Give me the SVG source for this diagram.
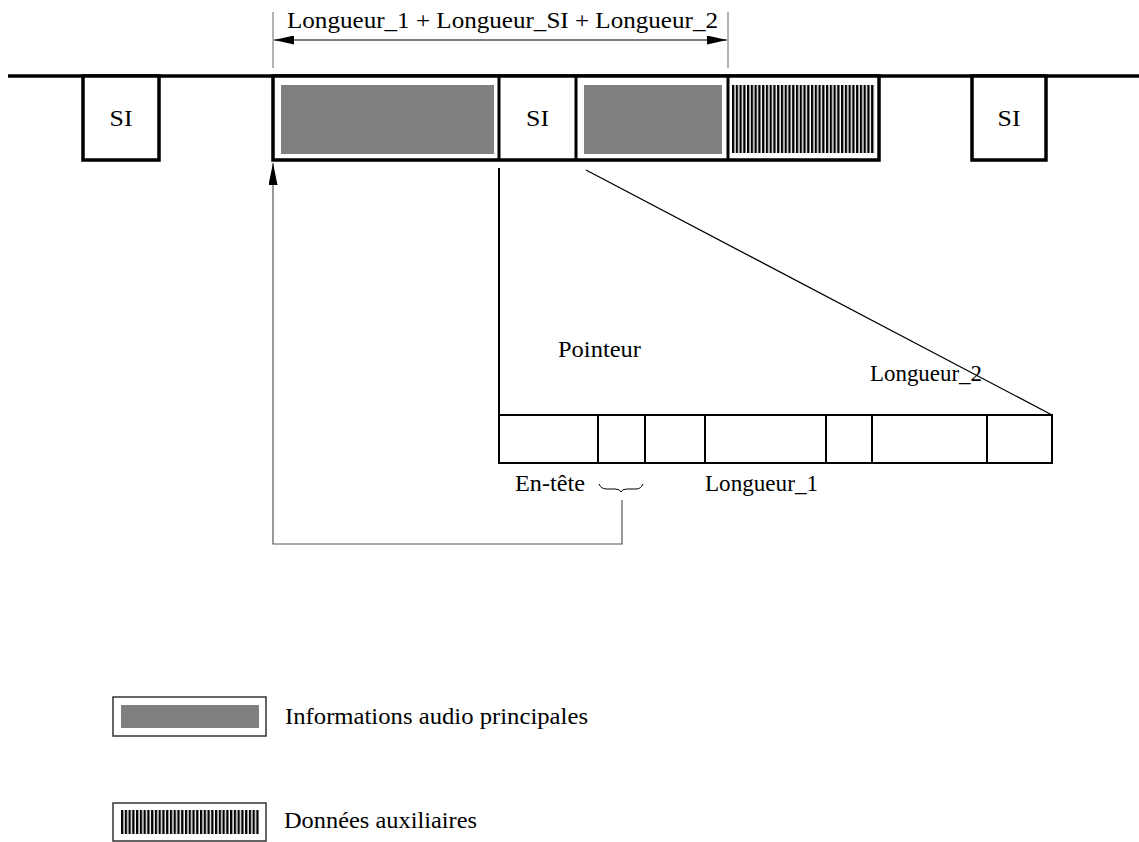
<svg xmlns="http://www.w3.org/2000/svg" width="1139" height="842" viewBox="0 0 1139 842">
<style>
text { font-family: "Liberation Serif", "Times New Roman", serif; font-size: 23px; fill: #000; }
.thick { fill: #fff; stroke: #000; stroke-width: 3.5; }
.gray { fill: #808080; }
.hatch { fill: url(#stripes); }
.lead { fill: none; stroke: #555; stroke-width: 1.2; }
.leg { fill: #fff; stroke: #333; stroke-width: 1.5; }
.div { stroke: #000; stroke-width: 2; }
</style>
<defs>
<pattern id="stripes" patternUnits="userSpaceOnUse" x="732" y="0" width="3.76" height="10">
<rect x="0" y="0" width="2.3" height="10" fill="#000"/>
</pattern>
<pattern id="stripes2" patternUnits="userSpaceOnUse" x="121" y="0" width="3.76" height="10">
<rect x="0" y="0" width="2.3" height="10" fill="#000"/>
</pattern>
<marker id="arr" markerWidth="20" markerHeight="9" refX="20" refY="4.5" orient="auto-start-reverse" markerUnits="userSpaceOnUse">
<path d="M0,0 L20,4.5 L0,9 Z" fill="#000"/>
</marker>
<marker id="arrUp" markerWidth="22" markerHeight="9" refX="22" refY="4.5" orient="auto" markerUnits="userSpaceOnUse">
<path d="M0,0 L22,4.5 L0,9 Z" fill="#000"/>
</marker>
</defs>

<line x1="8" y1="76" x2="1139" y2="76" stroke="#000" stroke-width="3.5"/>

<g id="si-left">
<rect class="thick" x="83" y="76" width="76" height="84"/>
<text x="121" y="126" text-anchor="middle" textLength="23" lengthAdjust="spacingAndGlyphs">SI</text>
</g>

<g id="si-right">
<rect class="thick" x="972" y="76" width="74" height="84"/>
<text x="1009" y="126" text-anchor="middle" textLength="23" lengthAdjust="spacingAndGlyphs">SI</text>
</g>

<g id="frame">
<rect class="thick" x="273" y="76" width="606" height="84"/>
<g id="audio1">
<rect class="gray" x="281" y="85" width="213" height="69"/>
</g>
<g id="si-mid">
<line x1="499" y1="76" x2="499" y2="160" stroke="#000" stroke-width="3"/>
<line x1="576" y1="76" x2="576" y2="160" stroke="#000" stroke-width="3"/>
<text x="537.5" y="126" text-anchor="middle" textLength="23" lengthAdjust="spacingAndGlyphs">SI</text>
</g>
<g id="audio2">
<rect class="gray" x="584" y="85" width="138" height="69"/>
</g>
<g id="aux">
<line x1="728" y1="76" x2="728" y2="160" stroke="#000" stroke-width="3"/>
<rect class="hatch" x="732" y="85" width="143" height="68"/>
</g>
</g>

<g id="dimension">
<line x1="273" y1="12" x2="273" y2="68" stroke="#666" stroke-width="1"/>
<line x1="728" y1="12" x2="728" y2="68" stroke="#666" stroke-width="1"/>
<line x1="274" y1="40" x2="727" y2="40" stroke="#000" stroke-width="1" marker-start="url(#arr)" marker-end="url(#arr)"/>
<text x="287" y="28" textLength="431" lengthAdjust="spacingAndGlyphs">Longueur_1 + Longueur_SI + Longueur_2</text>
</g>

<g id="detail">
<rect x="499" y="415" width="553" height="48" fill="none" stroke="#000" stroke-width="2"/>
<line class="div" x1="598" y1="415" x2="598" y2="463"/>
<line class="div" x1="645" y1="415" x2="645" y2="463"/>
<line class="div" x1="705" y1="415" x2="705" y2="463"/>
<line class="div" x1="826" y1="415" x2="826" y2="463"/>
<line class="div" x1="872" y1="415" x2="872" y2="463"/>
<line class="div" x1="987" y1="415" x2="987" y2="463"/>
<text x="558" y="357" textLength="83" lengthAdjust="spacingAndGlyphs">Pointeur</text>
<text x="870" y="381" textLength="112" lengthAdjust="spacingAndGlyphs">Longueur_2</text>
<text x="515" y="491" textLength="70" lengthAdjust="spacingAndGlyphs">En-tête</text>
<text x="705" y="491" textLength="113" lengthAdjust="spacingAndGlyphs">Longueur_1</text>
<path d="M599,484 Q601,489 607,489 L615,489 Q620,489 621,492 Q622,489 627,489 L636,489 Q641,489 643,484" fill="none" stroke="#000" stroke-width="1"/>
</g>

<g id="connectors">
<line x1="499" y1="168" x2="499" y2="415" stroke="#000" stroke-width="2"/>
<line x1="586" y1="170" x2="1052" y2="415" stroke="#000" stroke-width="1.3"/>
<polyline class="lead" points="622,500 622,544 273,544 273,163" marker-end="url(#arrUp)"/>
</g>

<g id="legend-audio">
<rect class="leg" x="113" y="697" width="153" height="39"/>
<rect class="gray" x="121" y="705" width="138" height="23"/>
<text x="285" y="724" textLength="303" lengthAdjust="spacingAndGlyphs">Informations audio principales</text>
</g>

<g id="legend-aux">
<rect class="leg" x="113" y="803" width="153" height="38"/>
<rect x="121" y="810" width="138" height="24" fill="url(#stripes2)"/>
<text x="284" y="828" textLength="193" lengthAdjust="spacingAndGlyphs">Données auxiliaires</text>
</g>
</svg>
